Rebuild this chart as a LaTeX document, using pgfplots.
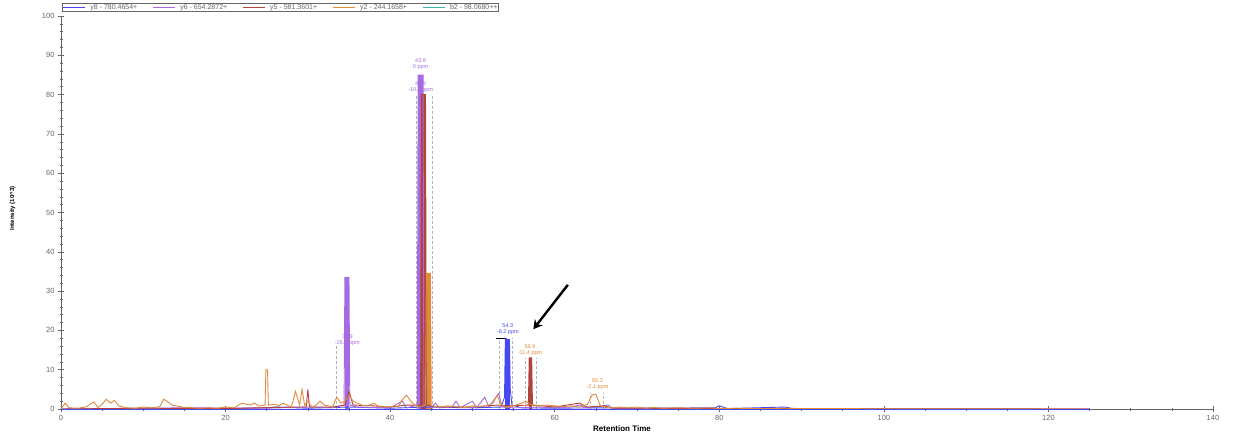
\documentclass[border=0pt]{standalone}
\usepackage{pgfplots}
\pgfplotsset{compat=1.18}
\usepackage{fontspec}
\setmainfont{Liberation Sans}
\usetikzlibrary{arrows.meta}
\definecolor{cy8}{HTML}{4848F0}
\definecolor{cy6}{HTML}{A66BE0}
\definecolor{cy5}{HTML}{B0443C}
\definecolor{cy2}{HTML}{E08A3C}
\definecolor{cb2}{HTML}{3FB3B0}
\definecolor{tk}{HTML}{666666}
\newcommand{\lgd}[2]{\textcolor{#1}{\rule[0.3ex]{22pt}{1.3pt}}\hspace{5pt}\textcolor{tk}{#2}}
\begin{document}
\begin{tikzpicture}[x=1pt,y=1pt]
\useasboundingbox (0,0) rectangle (1239,440);
\begin{axis}[
  at={(61pt,31pt)}, anchor=south west,
  scale only axis, width=1152pt, height=393pt,
  xmin=0, xmax=140, ymin=0, ymax=100,
  axis x line*=bottom, axis y line*=left,
  axis line style={tk, line width=0.6pt},
  xtick={0,20,...,140}, minor xtick={5,10,...,135},
  ytick={0,10,...,100}, minor ytick={2,4,...,98},
  tick align=center,
  major tick length=6pt, minor tick length=3pt,
  tick style={tk, line width=0.5pt},
  ticklabel style={font=\fontsize{7.5}{8}\selectfont, text=tk},
  /pgf/number format/assume math mode=true,
  xlabel={\textbf{Retention Time}},
  xlabel style={font=\fontsize{8}{9}\selectfont, at={(axis description cs:0.487,0)}, anchor=north, yshift=-13pt},
  ylabel={\textbf{Intensity (10\^{}3)}},
  ylabel style={font=\fontsize{6}{7}\selectfont, at={(axis description cs:-0.042,0.51)}, anchor=center},
  clip=false,
]
% thick peak bodies
\addplot[cy6, line width=4.5pt, line cap=butt] coordinates {(34.75,0)(34.75,33.5)};
\addplot[cy6, line width=5pt, line cap=butt] coordinates {(43.7,0)(43.7,85)};
\addplot[cy5, line width=4.5pt, line cap=butt] coordinates {(44.05,0)(44.05,80)};
\addplot[cy2, line width=4.5pt, line cap=butt] coordinates {(44.65,0)(44.65,34.5)};
\addplot[cy8, line width=4.5pt, line cap=butt] coordinates {(54.25,0)(54.25,17.8)};
\addplot[cy5, line width=3pt, line cap=butt] coordinates {(57.05,0)(57.05,13)};
% integration boundaries
\addplot[gray!60, densely dashed, line width=0.4pt] coordinates {(33.5,0)(33.5,16)};
\addplot[gray!60, densely dashed, line width=0.4pt] coordinates {(43.2,0)(43.2,80)};
\addplot[gray!60, densely dashed, line width=0.4pt] coordinates {(45.1,0)(45.1,80)};
\addplot[gray!60, densely dashed, line width=0.4pt] coordinates {(53.3,0)(53.3,18)};
\addplot[gray!60, densely dashed, line width=0.4pt] coordinates {(54.8,0)(54.8,18)};
\addplot[gray!60, densely dashed, line width=0.4pt] coordinates {(56.4,0)(56.4,13)};
\addplot[gray!60, densely dashed, line width=0.4pt] coordinates {(57.8,0)(57.8,13)};
\addplot[gray!60, densely dashed, line width=0.4pt] coordinates {(64.3,0)(64.3,4)};
\addplot[gray!60, densely dashed, line width=0.4pt] coordinates {(65.9,0)(65.9,4)};
% series
\addplot[cy8, line width=0.9pt] coordinates {(0,0)(20,0.1)(25,0.3)(26,0.5)(30,0.2)(35,0.5)(40,0.2)(44,0.5)(50,0.3)(53.5,0.5)(53.9,3)(54.0,18)(54.5,17.5)(54.6,5)(54.8,1)(56,0.3)(60,0.2)(65,0.3)(70,0.2)(79.5,0.3)(80,0.8)(81,0.1)(88,0.5)(89,0.1)(100,0.05)(125,0)};
\addplot[cy6, line width=0.9pt] coordinates {(0,0)(15,0.3)(25,0.2)(30,0.5)(33,0.3)(34.4,1)(34.5,33.5)(35.0,33.5)(35.1,1)(36,0.5)(40,0.3)(41.5,2)(42,0.3)(43.3,1)(43.4,85)(44.0,85)(44.1,1)(45,0.5)(45.5,1.5)(46,0.3)(47.5,0.5)(48,2)(48.5,0.3)(50,2)(50.5,0.3)(51.5,3)(52,0.5)(53.2,4)(53.6,0.5)(55,0.3)(58,0.5)(60,0.3)(62,0.5)(63,1)(64,0.3)(66.5,1)(67,0.2)(70,0.1)(80,0.1)(125,0)};
\addplot[cy5, line width=0.9pt] coordinates {(0,0)(10,0.2)(20,0.1)(24,0.3)(28,0.5)(29.8,0.5)(30,5)(30.2,0.5)(33,0.5)(34.5,1)(35,4.5)(35.5,1)(38,0.8)(40,0.5)(42,1)(43.7,1)(43.8,80)(44.3,80)(44.4,1)(46,0.5)(50,0.5)(53,1)(54.5,0.8)(56.8,1)(56.9,13)(57.2,13)(57.3,1)(60,0.5)(63,1.5)(64,0.5)(66,0.8)(67,0.2)(70,0.2)(80,0.1)(125,0)};
\addplot[cy2, line width=0.9pt] coordinates {(0,0)(0.5,1.5)(1,0.3)(2,0.2)(3,0.5)(4,1.8)(4.5,0.4)(5,1.2)(5.5,2.5)(6,1.5)(6.5,2.2)(7,0.8)(8,0.3)(9,0.2)(10,0.5)(11,0.3)(12,0.6)(12.5,2.5)(13,1.8)(13.5,1)(14,0.8)(15,0.4)(16,0.3)(17,0.2)(18,0.3)(19,0.2)(20,0.5)(21,0.3)(22,1.5)(22.5,1.2)(23,1.0)(23.5,1.5)(24,0.8)(24.8,1)(24.9,10)(25.1,10)(25.2,1)(26,1.2)(26.5,0.8)(27,1.5)(27.5,1)(28,0.5)(28.5,4.5)(29,1)(29.3,5)(29.6,1)(30,2)(30.5,0.5)(31,1)(31.5,2)(32,1)(32.5,0.8)(33,0.5)(33.5,3)(34,1.5)(34.5,2)(35,3.5)(35.5,2)(36,1.5)(36.5,1)(37,0.8)(37.5,1)(38,1.5)(38.5,0.8)(39,0.5)(39.5,0.7)(40,0.5)(40.5,0.8)(41,0.6)(41.5,2.5)(42,3.5)(42.5,2)(43,1)(43.5,0.5)(44.3,1)(44.4,34.5)(44.9,34.5)(45.0,1)(45.5,0.6)(46,0.5)(47,0.8)(48,0.6)(49,0.4)(50,0.8)(51,0.6)(52,1)(52.5,1.5)(53,3.5)(53.5,1)(54,0.5)(55,0.8)(56,1.5)(56.5,2)(57,1.2)(57.5,1)(58,0.8)(59,1)(60,0.8)(61,0.6)(62,0.8)(63,0.5)(64,1.2)(64.5,3.5)(65,3.8)(65.5,1)(66,0.5)(67,0.3)(68,0.5)(69,0.3)(70,0.5)(71,0.2)(72,0.4)(73,0.2)(75,0.3)(77,0.2)(79,0.3)(80,0.1)(82,0.2)(85,0.1)(88,0.2)(90,0.1)(95,0.1)(100,0.05)(110,0.05)(120,0.05)(125,0)};
\addplot[cb2, line width=0.9pt] coordinates {(0,0)(60,0)(125,0)};
\addplot[cy8, line width=0.9pt] coordinates {(0,0)(125,0)};
\addplot[black, line width=1.4pt] coordinates {(52.9,17.9)(53.9,17.9)};
% annotations
\node[cy6, font=\fontsize{5.5}{6}\selectfont, align=center, inner sep=0pt] at (axis cs:34.8,17.5) {34.9\\-26.7 ppm};
\node[cy6, font=\fontsize{5.5}{6}\selectfont, align=center, inner sep=0pt] at (axis cs:43.7,87.8) {43.9\\0 ppm};
\node[cy6, font=\fontsize{5.5}{6}\selectfont, align=center, inner sep=0pt] at (axis cs:43.7,81.8) {43.9\\-10.4 ppm};
\node[cy8, font=\fontsize{5.5}{6}\selectfont, align=center, inner sep=0pt] at (axis cs:54.3,20.4) {54.3\\-8.2 ppm};
\node[cy2, font=\fontsize{5.5}{6}\selectfont, align=center, inner sep=0pt] at (axis cs:57.0,14.9) {56.9\\-11.4 ppm};
\node[cy2, font=\fontsize{5.5}{6}\selectfont, align=center, inner sep=0pt] at (axis cs:65.2,6.3) {65.2\\-2.1 ppm};
\draw[black, line width=2.4pt, -{Stealth[length=9pt,width=10pt]}] (axis cs:61.6,31.6) -- (axis cs:57.4,20.3);
\end{axis}
\node[draw=tk, line width=0.5pt, anchor=south west, inner sep=1.2pt, font=\fontsize{7}{8}\selectfont] at (62,428)
  {\lgd{cy8}{y8 - 780.4654+}\hspace{16pt}\lgd{cy6}{y6 - 654.2872+}\hspace{16pt}\lgd{cy5}{y5 - 581.3601+}\hspace{16pt}\lgd{cy2}{y2 - 244.1658+}\hspace{16pt}\lgd{cb2}{b2 - 98.0680++}};
\end{tikzpicture}
\end{document}
